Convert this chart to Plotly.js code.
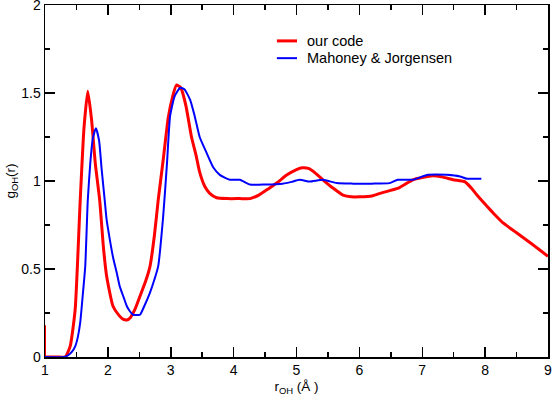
<!DOCTYPE html>
<html>
<head>
<meta charset="utf-8">
<script src="https://cdn.plot.ly/plotly-3.0.1.min.js"></script>
<style>html,body{margin:0;padding:0;background:#fff;}#chart{width:552px;height:397px;}</style>
</head>
<body>
<div id="chart"></div>
<script>
const ourCodeR = [1.0, 1.0, 1.05, 1.2, 1.32, 1.40, 1.48, 1.56, 1.62, 1.68, 1.74, 1.80, 1.87, 1.93, 1.98, 2.08, 2.18, 2.24, 2.30, 2.36, 2.43, 2.51, 2.60, 2.67, 2.74, 2.80, 2.88, 2.96, 3.03, 3.09, 3.16, 3.24, 3.33, 3.40, 3.46, 3.54, 3.62, 3.73, 3.90, 4.10, 4.26, 4.40, 4.55, 4.69, 4.85, 5.00, 5.09, 5.20, 5.30, 5.42, 5.58, 5.74, 5.87, 6.01, 6.20, 6.33, 6.48, 6.64, 6.85, 7.00, 7.17, 7.33, 7.49, 7.68, 7.78, 7.87, 8.03, 8.15, 8.28, 8.50, 8.76, 9.0];
const ourCodeG = [0.18, 0.0, 0.0, 0.0, 0.0, 0.06, 0.27, 0.89, 1.30, 1.51, 1.35, 1.10, 0.89, 0.62, 0.46, 0.29, 0.235, 0.215, 0.21, 0.225, 0.27, 0.345, 0.43, 0.515, 0.69, 0.89, 1.12, 1.36, 1.48, 1.545, 1.53, 1.43, 1.25, 1.15, 1.05, 0.97, 0.93, 0.905, 0.90, 0.90, 0.90, 0.92, 0.955, 0.99, 1.035, 1.065, 1.075, 1.07, 1.045, 1.007, 0.96, 0.92, 0.91, 0.91, 0.915, 0.93, 0.945, 0.963, 1.007, 1.02, 1.03, 1.022, 1.007, 0.995, 0.96, 0.92, 0.856, 0.81, 0.763, 0.706, 0.638, 0.572];
const mahoneyR = [1.0, 1.30, 1.37, 1.43, 1.48, 1.52, 1.56, 1.60, 1.64, 1.68, 1.72, 1.76, 1.81, 1.86, 1.90, 1.95, 1.98, 2.03, 2.08, 2.14, 2.19, 2.25, 2.30, 2.35, 2.40, 2.51, 2.58, 2.67, 2.74, 2.80, 2.88, 2.94, 2.99, 3.06, 3.15, 3.22, 3.31, 3.38, 3.46, 3.57, 3.68, 3.78, 3.94, 4.10, 4.26, 4.50, 4.78, 4.92, 5.05, 5.21, 5.42, 5.64, 5.90, 6.20, 6.48, 6.61, 6.85, 7.09, 7.39, 7.60, 7.71, 7.94];
const mahoneyG = [0.0, 0.0, 0.01, 0.03, 0.06, 0.11, 0.195, 0.35, 0.515, 0.89, 1.10, 1.24, 1.30, 1.23, 1.07, 0.89, 0.78, 0.67, 0.57, 0.48, 0.40, 0.34, 0.29, 0.26, 0.24, 0.24, 0.29, 0.366, 0.44, 0.515, 0.80, 1.10, 1.37, 1.48, 1.53, 1.52, 1.46, 1.37, 1.25, 1.16, 1.075, 1.035, 1.007, 1.007, 0.98, 0.98, 0.985, 0.995, 1.007, 0.997, 1.007, 0.988, 0.985, 0.985, 0.988, 1.007, 1.007, 1.035, 1.035, 1.026, 1.013, 1.013];

const seriesNames = ['our code', 'Mahoney &amp; Jorgensen'];
const seriesColors = ['#ff0000', '#0000ff'];
const xTicks = [1, 2, 3, 4, 5, 6, 7, 8, 9];
const yTicks = [0, 0.5, 1, 1.5, 2];
const yTickLabels = ['0', '0.5', '1', '1.5', '2'];

const fontFam = 'Liberation Sans, Arial, sans-serif';

const traces = [
  // initial straight segment of "our code" at r = 1
  {x: ourCodeR.slice(0, 3), y: ourCodeG.slice(0, 3), mode: 'lines', name: seriesNames[0], line: {color: seriesColors[0], width: 2}, showlegend: false, hoverinfo: 'skip'},
  {x: ourCodeR.slice(1), y: ourCodeG.slice(1), mode: 'lines', name: seriesNames[0], line: {color: seriesColors[0], width: 3, shape: 'spline', smoothing: 0.5}, showlegend: false},
  {x: mahoneyR, y: mahoneyG, mode: 'lines', name: seriesNames[1], line: {color: seriesColors[1], width: 2, shape: 'spline', smoothing: 0.5}, showlegend: false}
];

// legend drawn as shapes + text annotations (paper coordinates)
const legX0 = 0.461, legX1 = 0.501, legTextX = 0.517;
const legY = [0.898, 0.849];
const legWidths = [3, 2];
const shapes = [], annotations = [];
for (let i = 0; i < 2; i++) {
  shapes.push({type: 'line', xref: 'paper', yref: 'paper', x0: legX0, x1: legX1, y0: legY[i], y1: legY[i],
    line: {color: seriesColors[i], width: legWidths[i]}});
  annotations.push({xref: 'paper', yref: 'paper', x: legTextX, y: legY[i], xanchor: 'left', yanchor: 'middle',
    text: seriesNames[i], showarrow: false, font: {family: fontFam, size: 14.5, color: '#000'}});
}

const axisCommon = {
  showgrid: false, zeroline: false, showline: true, linecolor: '#000', linewidth: 1.5,
  mirror: 'ticks', ticks: 'inside', ticklen: 10, tickwidth: 1.5, tickcolor: '#000',
  ticklabeloverflow: 'allow',
  tickfont: {family: fontFam, size: 14, color: '#000'}
};

const layout = {
  width: 552, height: 397,
  margin: {l: 45, r: 4, t: 5, b: 40},
  paper_bgcolor: '#fff', plot_bgcolor: '#fff',
  showlegend: false,
  shapes: shapes,
  annotations: annotations,
  xaxis: Object.assign({}, axisCommon, {
    range: [1, 9], tickvals: xTicks, ticktext: xTicks.map(String),
    minor: {dtick: 0.5, ticklen: 5, tickwidth: 1.5, tickcolor: '#000', ticks: 'inside'},
    title: {text: 'r<sub>OH</sub> (Å )', font: {family: fontFam, size: 13.5, color: '#000'}, standoff: 4}
  }),
  yaxis: Object.assign({}, axisCommon, {
    range: [0, 2], tickvals: yTicks, ticktext: yTickLabels,
    minor: {dtick: 0.25, ticklen: 5, tickwidth: 1.5, tickcolor: '#000', ticks: 'inside'},
    title: {text: 'g<sub>OH</sub>(r)', font: {family: fontFam, size: 13.5, color: '#000'}, standoff: 2}
  })
};

Plotly.newPlot('chart', traces, layout, {staticPlot: true, displayModeBar: false});
</script>
</body>
</html>
